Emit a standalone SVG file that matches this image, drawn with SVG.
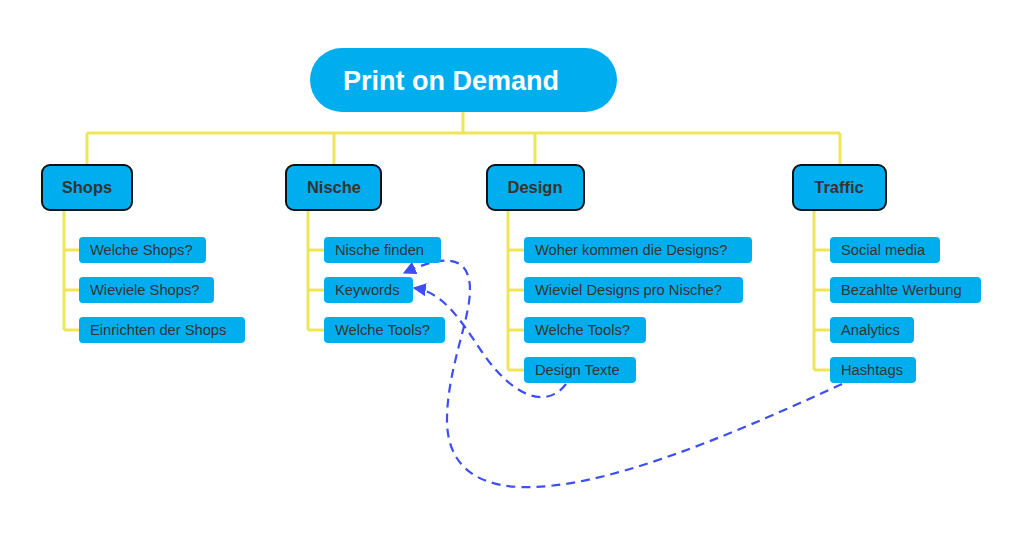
<svg xmlns="http://www.w3.org/2000/svg" width="1024" height="535" viewBox="0 0 1024 535">
<style>
.bg{fill:#ffffff}
.root{fill:#00aeef}
.head{fill:#00aeef;stroke:#111;stroke-width:2}
.child{fill:#00aeef}
.tree{fill:none;stroke:#efe55a;stroke-width:3}
.link{fill:none;stroke:#3d4ef5;stroke-width:2.2;stroke-dasharray:9 6}
.t-root{font-family:"Liberation Sans",Arial,sans-serif;font-size:27px;font-weight:bold;fill:#ffffff}
.t-head{font-family:"Liberation Sans",Arial,sans-serif;font-size:16.5px;font-weight:bold;fill:#333333;text-anchor:middle}
.t-child{font-family:"Liberation Sans",Arial,sans-serif;font-size:14.7px;fill:#333333}
</style>
<defs>
<marker id="arr" viewBox="0 0 10 10" refX="9" refY="5" markerWidth="6" markerHeight="6" orient="auto" markerUnits="strokeWidth">
<path d="M0,0 L10,5 L0,10 z" fill="#3d4ef5"/>
</marker>
</defs>
<rect class="bg" x="0" y="0" width="1024" height="535"/>
<g id="connectors">
<path class="tree" d="M463,112 V133 M87,133 H840 M87,133 V165 M334,133 V165 M535,133 V165 M840,133 V165"/>
<path class="tree" d="M64,210 V330 M64,250 H79 M64,290 H79 M64,330 H79"/>
<path class="tree" d="M308,210 V330 M308,250 H324 M308,290 H324 M308,330 H324"/>
<path class="tree" d="M508,210 V370 M508,250 H524 M508,290 H524 M508,330 H524 M508,370 H524"/>
<path class="tree" d="M814,210 V370 M814,250 H830 M814,290 H830 M814,330 H830 M814,370 H830"/>
<path class="link" marker-end="url(#arr)" d="M566,384 C548,408 515,400 482,352 C458,316 442,292 414,288"/>
<path class="link" marker-end="url(#arr)" d="M842,384 C720,440 600,490 520,487 C470,485 447,460 447,420 C447,370 470,320 470,290 C470,252 440,256 404,273"/>
</g>
<g id="root"><rect class="root" x="310" y="48" width="307" height="64" rx="32"/><text class="t-root" x="343" y="90">Print on Demand</text></g>
<g id="shops"><rect class="head" x="42" y="165" width="90" height="45" rx="8"/><text class="t-head" x="87" y="193">Shops</text></g>
<g id="nische"><rect class="head" x="286" y="165" width="95" height="45" rx="8"/><text class="t-head" x="334" y="193">Nische</text></g>
<g id="design"><rect class="head" x="487" y="165" width="97" height="45" rx="8"/><text class="t-head" x="535" y="193">Design</text></g>
<g id="traffic"><rect class="head" x="793" y="165" width="93" height="45" rx="8"/><text class="t-head" x="839" y="193">Traffic</text></g>
<g id="welche-shops"><rect class="child" x="79" y="237" width="127" height="26" rx="4"/><text class="t-child" x="90" y="255">Welche Shops?</text></g>
<g id="wieviele-shops"><rect class="child" x="79" y="277" width="135" height="26" rx="4"/><text class="t-child" x="90" y="295">Wieviele Shops?</text></g>
<g id="einrichten"><rect class="child" x="79" y="317" width="166" height="26" rx="4"/><text class="t-child" x="90" y="335">Einrichten der Shops</text></g>
<g id="nische-finden"><rect class="child" x="324" y="237" width="117" height="26" rx="4"/><text class="t-child" x="335" y="255">Nische finden</text></g>
<g id="keywords"><rect class="child" x="324" y="277" width="89" height="26" rx="4"/><text class="t-child" x="335" y="295">Keywords</text></g>
<g id="nische-tools"><rect class="child" x="324" y="317" width="121" height="26" rx="4"/><text class="t-child" x="335" y="335">Welche Tools?</text></g>
<g id="woher"><rect class="child" x="524" y="237" width="228" height="26" rx="4"/><text class="t-child" x="535" y="255">Woher kommen die Designs?</text></g>
<g id="wieviel-designs"><rect class="child" x="524" y="277" width="219" height="26" rx="4"/><text class="t-child" x="535" y="295">Wieviel Designs pro Nische?</text></g>
<g id="design-tools"><rect class="child" x="524" y="317" width="122" height="26" rx="4"/><text class="t-child" x="535" y="335">Welche Tools?</text></g>
<g id="design-texte"><rect class="child" x="524" y="357" width="112" height="26" rx="4"/><text class="t-child" x="535" y="375">Design Texte</text></g>
<g id="social-media"><rect class="child" x="830" y="237" width="110" height="26" rx="4"/><text class="t-child" x="841" y="255">Social media</text></g>
<g id="bezahlte-werbung"><rect class="child" x="830" y="277" width="151" height="26" rx="4"/><text class="t-child" x="841" y="295">Bezahlte Werbung</text></g>
<g id="analytics"><rect class="child" x="830" y="317" width="84" height="26" rx="4"/><text class="t-child" x="841" y="335">Analytics</text></g>
<g id="hashtags"><rect class="child" x="830" y="357" width="86" height="26" rx="4"/><text class="t-child" x="841" y="375">Hashtags</text></g>
</svg>
